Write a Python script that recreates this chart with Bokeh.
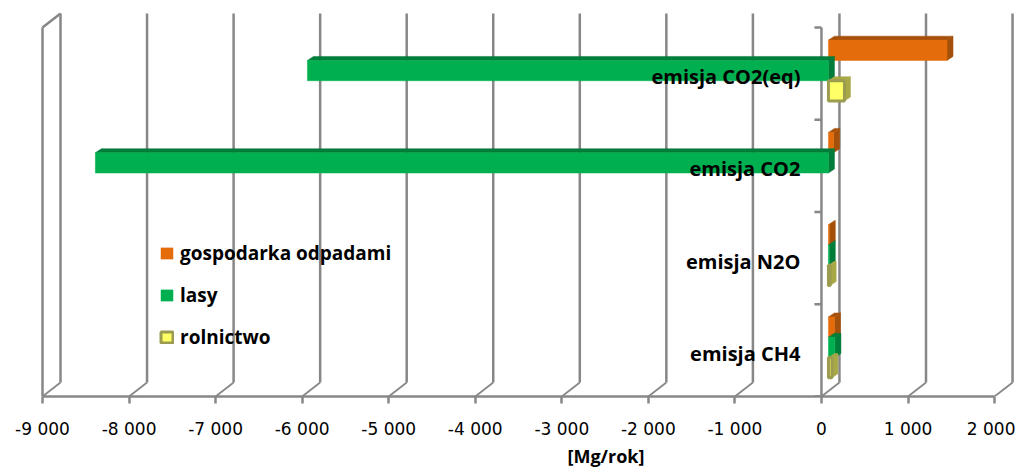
from bokeh.plotting import figure
from bokeh.models import Range1d, FixedTicker, Legend, LegendItem, Title
from bokeh.core.properties import value
from bokeh.embed import file_html
from bokeh.resources import INLINE

# ---- data ----
categories = ["emisja CH4", "emisja N2O", "emisja CO2", "emisja CO2(eq)"]
series_names = ["gospodarka odpadami", "lasy", "rolnictwo"]
gospodarka_odpadami = [70, 10, 60, 1370]
lasy = [75, 10, -8470, -6020]
rolnictwo = [40, 20, 0, 185]
x_ticks = [-9000, -8000, -7000, -6000, -5000, -4000, -3000, -2000, -1000, 0, 1000, 2000]
x_tick_labels = ["-9 000", "-8 000", "-7 000", "-6 000", "-5 000", "-4 000",
                 "-3 000", "-2 000", "-1 000", "0", "1 000", "2 000"]
x_title = "[Mg/rok]"

# ---- styling ----
front_colors = ["#E46C0A", "#00B050", "#FFFF66"]
shade_colors = ["#A5500A", "#007D3A", "#A8A846"]
border_colors = ["#E46C0A", "#00B050", "#9C9C50"]
border_widths = [0.5, 0.5, 3]
FONT = "Open Sans"
GRID = "#878787"

W, H = 1015, 467
LEFT, TOP, BOTTOM = 40, 12, 69
PX_X = 1 / 0.08655      # data units per pixel (x)
PX_Y = 1 / 92.75        # data units per pixel (y)
WALL_DX, WALL_DY = 18 * PX_X, 14 * PX_Y    # depth of chart box
BAR_DX, BAR_DY = 6 * PX_X, 4 * PX_Y        # depth of each bar
SHIFT_X, SHIFT_Y = 7 * PX_X, 3 * PX_Y      # bars sit mid-depth
BAR_H = 0.22
offsets = [BAR_H, 0.0, -BAR_H]

xmin, xmax = x_ticks[0], x_ticks[-1]
ncat = len(categories)
y_lo, y_hi = -0.5, ncat - 0.5
frame_w = W - LEFT
frame_h = H - TOP - BOTTOM
x_start = xmin - 2 * PX_X

p = figure(width=W, height=H, output_backend="svg", toolbar_location=None,
           x_range=Range1d(x_start, x_start + frame_w * PX_X),
           y_range=Range1d(y_lo, y_lo + frame_h * PX_Y),
           y_axis_location=None, min_border_left=LEFT, min_border_right=0,
           min_border_top=TOP, min_border_bottom=BOTTOM)
p.outline_line_color = None
p.xgrid.grid_line_color = None
p.ygrid.grid_line_color = None
p.background_fill_color = "white"

ax = p.xaxis[0]
ax.ticker = FixedTicker(ticks=x_ticks)
ax.major_label_overrides = {t: l for t, l in zip(x_ticks, x_tick_labels)}
ax.bounds = (xmin, xmax)
ax.axis_line_color = GRID
ax.axis_line_width = 2.5
ax.major_tick_line_color = GRID
ax.major_tick_line_width = 2.5
ax.major_tick_out = 7
ax.major_tick_in = 0
ax.minor_tick_line_color = None
ax.major_label_standoff = 15
ax.major_label_text_font = "DejaVu Sans"
ax.major_label_text_font_size = "17px"
ax.major_label_text_color = "black"

title = Title(text=x_title, align="left", offset=527, standoff=0,
              text_font=FONT, text_font_style="bold", text_font_size="18px",
              text_color="black")
p.add_layout(title, "below")

# ---- back wall gridlines and floor slants ----
n = len(x_ticks)
p.segment(x0=[t + WALL_DX for t in x_ticks], y0=[y_lo + WALL_DY] * n,
          x1=[t + WALL_DX for t in x_ticks], y1=[y_hi + WALL_DY] * n,
          line_color=GRID, line_width=2.5)
p.segment(x0=x_ticks, y0=[y_lo] * n,
          x1=[t + WALL_DX for t in x_ticks], y1=[y_lo + WALL_DY] * n,
          line_color=GRID, line_width=1.8)
# left wall front edge
p.segment(x0=[xmin, xmin], y0=[y_lo, y_hi], x1=[xmin, xmin + WALL_DX], y1=[y_hi, y_hi + WALL_DY],
          line_color=GRID, line_width=2.5)

# ---- category axis at x = 0 ----
p.segment(x0=[0], y0=[y_lo], x1=[0], y1=[y_hi], line_color=GRID, line_width=2.5)
bounds_y = [y_lo + k for k in range(ncat + 1)]
p.segment(x0=[0] * len(bounds_y), y0=bounds_y, x1=[-7 * PX_X] * len(bounds_y), y1=bounds_y,
          line_color=GRID, line_width=2.5)

# ---- 3D bars ----
all_series = [gospodarka_odpadami, lasy, rolnictwo]
front_renderers = []
for s, vals in enumerate(all_series):
    ys, lefts, rights = [], [], []
    top_xs, top_ys, side_xs, side_ys = [], [], [], []
    for i, v in enumerate(vals):
        if v == 0:
            continue
        yc = i + offsets[s] + SHIFT_Y
        x0 = min(0, v) + SHIFT_X
        x1 = max(0, v) + SHIFT_X
        yt, yb = yc + BAR_H / 2, yc - BAR_H / 2
        ys.append(yc); lefts.append(x0); rights.append(x1)
        top_xs.append([x0, x1, x1 + BAR_DX, x0 + BAR_DX])
        top_ys.append([yt, yt, yt + BAR_DY, yt + BAR_DY])
        side_xs.append([x1, x1 + BAR_DX, x1 + BAR_DX, x1])
        side_ys.append([yb, yb + BAR_DY, yt + BAR_DY, yt])
    p.patches(top_xs, top_ys, fill_color=shade_colors[s], line_color=shade_colors[s], line_width=0.5)
    p.patches(side_xs, side_ys, fill_color=shade_colors[s], line_color=shade_colors[s], line_width=0.5)
    r = p.hbar(y=ys, left=lefts, right=rights, height=BAR_H, fill_color=front_colors[s],
               line_color=border_colors[s], line_width=border_widths[s])
    front_renderers.append(r)

# ---- category labels ----
p.text(x=[0] * ncat, y=list(range(ncat)), text=categories, x_offset=-21, y_offset=3,
       text_align="right", text_baseline="middle", text_font=value(FONT),
       text_font_style="bold", text_font_size="20px", text_color="black")

# ---- legend ----
legend = Legend(items=[LegendItem(label=nm, renderers=[r]) for nm, r in zip(series_names, front_renderers)],
                location=(119, 46), orientation="vertical",
                glyph_width=15, glyph_height=14, label_standoff=6, spacing=16,
                padding=0, margin=0, border_line_color=None, background_fill_alpha=0,
                label_text_font=FONT, label_text_font_style="bold", label_text_font_size="19px",
                label_text_color="black")
p.add_layout(legend, "center")

open("out.html", "w").write(file_html(p, INLINE))
